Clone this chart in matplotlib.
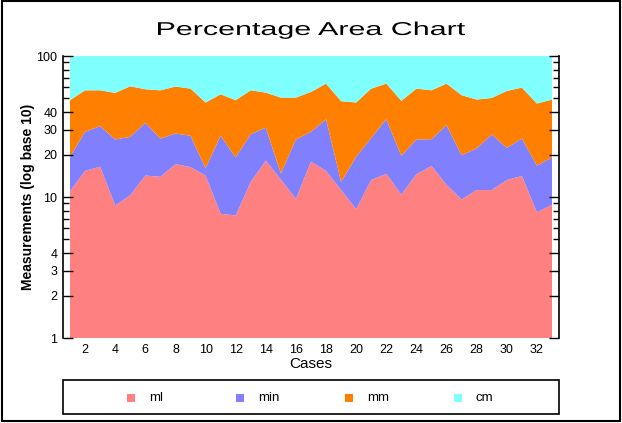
import numpy as np
import matplotlib.pyplot as plt
from matplotlib.patches import Rectangle, PathPatch
from matplotlib.textpath import TextPath
from matplotlib.font_manager import FontProperties
from matplotlib.transforms import Affine2D, IdentityTransform
from matplotlib.ticker import FixedLocator, NullFormatter

plt.rcParams['font.family'] = ['Liberation Sans', 'DejaVu Sans']

# percentages per case (ml + min + mm + cm = 100)
cases = np.arange(1, 34)
ml = [11.0, 15.3, 16.4, 8.7, 10.3, 14.2, 13.9, 17.1, 16.3, 14.2, 7.6, 7.4, 12.8,
      18.1, 13.3, 9.7, 17.8, 15.3, 11.2, 8.2, 13.2, 14.6, 10.4, 14.5, 16.6, 12.2,
      9.6, 11.2, 11.2, 13.2, 14.1, 7.8, 8.8]
mn = [8.3, 13.7, 15.4, 16.9, 16.4, 19.4, 12.0, 11.1, 10.9, 1.8, 19.6, 11.7, 15.1,
      12.9, 1.4, 15.9, 11.2, 20.3, 1.6, 11.1, 13.1, 21.0, 9.2, 11.1, 9.1, 20.1,
      10.2, 10.9, 16.6, 9.1, 11.9, 8.9, 10.3]
mm = [29.3, 28.1, 25.3, 29.1, 34.3, 24.5, 31.2, 32.5, 31.5, 30.8, 26.3, 29.5, 29.2,
      24.0, 36.0, 25.1, 26.6, 28.1, 35.0, 27.5, 32.4, 28.1, 28.5, 33.1, 31.4, 31.4,
      32.9, 27.0, 22.6, 34.2, 33.7, 29.3, 30.0]
cm = [100 - a - b - c for a, b, c in zip(ml, mn, mm)]

labels = ['ml', 'min', 'mm', 'cm']
colors = ['#FF8080', '#8080FF', '#FF8000', '#80FFFF']
title = 'Percentage Area Chart'

W, H = 622, 423
fig = plt.figure(figsize=(W / 100, H / 100), dpi=100)
ax = fig.add_axes([63 / W, 1 - 338 / H, 496 / W, 282 / H])

polys = ax.stackplot(cases, ml, mn, mm, cm, colors=colors, labels=labels, lw=0)
ax.set_yscale('log')
ax.set_ylim(1, 100)
ax.set_xlim(0.535, 33.465)

# y ticks: majors labelled, minors plain
ax.yaxis.set_major_locator(FixedLocator([1, 2, 3, 4, 10, 20, 30, 40, 100]))
ax.yaxis.set_minor_locator(FixedLocator([5, 6, 7, 8, 9, 50, 60, 70, 80, 90]))
ax.yaxis.set_major_formatter(plt.FuncFormatter(lambda v, p: f'{v:g}'))
ax.yaxis.set_minor_formatter(NullFormatter())
ax.tick_params(axis='y', which='major', direction='in', length=7, width=1,
               left=True, right=True, labelsize=9, pad=4)
ax.tick_params(axis='y', which='minor', direction='in', length=4, width=1,
               left=True, right=True)

ax.set_xticks(np.arange(2, 33, 2))
ax.tick_params(axis='x', length=0, labelsize=9, pad=4)

ax.spines['top'].set_visible(False)
ax.spines['bottom'].set_visible(False)
ax.spines['left'].set_linewidth(1.2)
ax.spines['right'].set_linewidth(1.2)

ax.set_xlabel('Cases', fontsize=11, labelpad=1)
ax.set_ylabel('Measurements (log base 10)', fontsize=10, fontweight='bold', labelpad=1)

# title: wide (horizontally stretched) lettering, built as a text path in pixels
tp = TextPath((0, 0), title, size=18.6, prop=FontProperties(family='Liberation Sans'))
ext = tp.get_extents()
sx = 307 / ext.width
tr = Affine2D().translate(-ext.x0, 0).scale(sx, 1).translate(158, H - 35)
fig.patches.append(PathPatch(tr.transform_path(tp), transform=IdentityTransform(),
                             fc='black', ec='none', figure=fig))

# legend box across the bottom, entries placed by hand
fig.patches.append(Rectangle((63 / W, 1 - 414 / H), 496 / W, 34 / H,
                             transform=fig.transFigure, fill=False, ec='black', lw=1.2))
for i, (lab, col) in enumerate(zip(labels, colors)):
    x0 = 127 + i * 109
    fig.patches.append(Rectangle((x0 / W, 1 - 402 / H), 8 / W, 8 / H,
                                 transform=fig.transFigure, fc=col, ec='none'))
    fig.text((x0 + 22) / W, 1 - 398 / H, lab, ha='left', va='center', fontsize=9.5)

# outer frame
fig.patches.append(Rectangle((1.5 / W, 2.5 / H), 618 / W, 419 / H,
                             transform=fig.transFigure, fill=False, ec='black', lw=1.5))

fig.savefig('out.png', dpi=100)
